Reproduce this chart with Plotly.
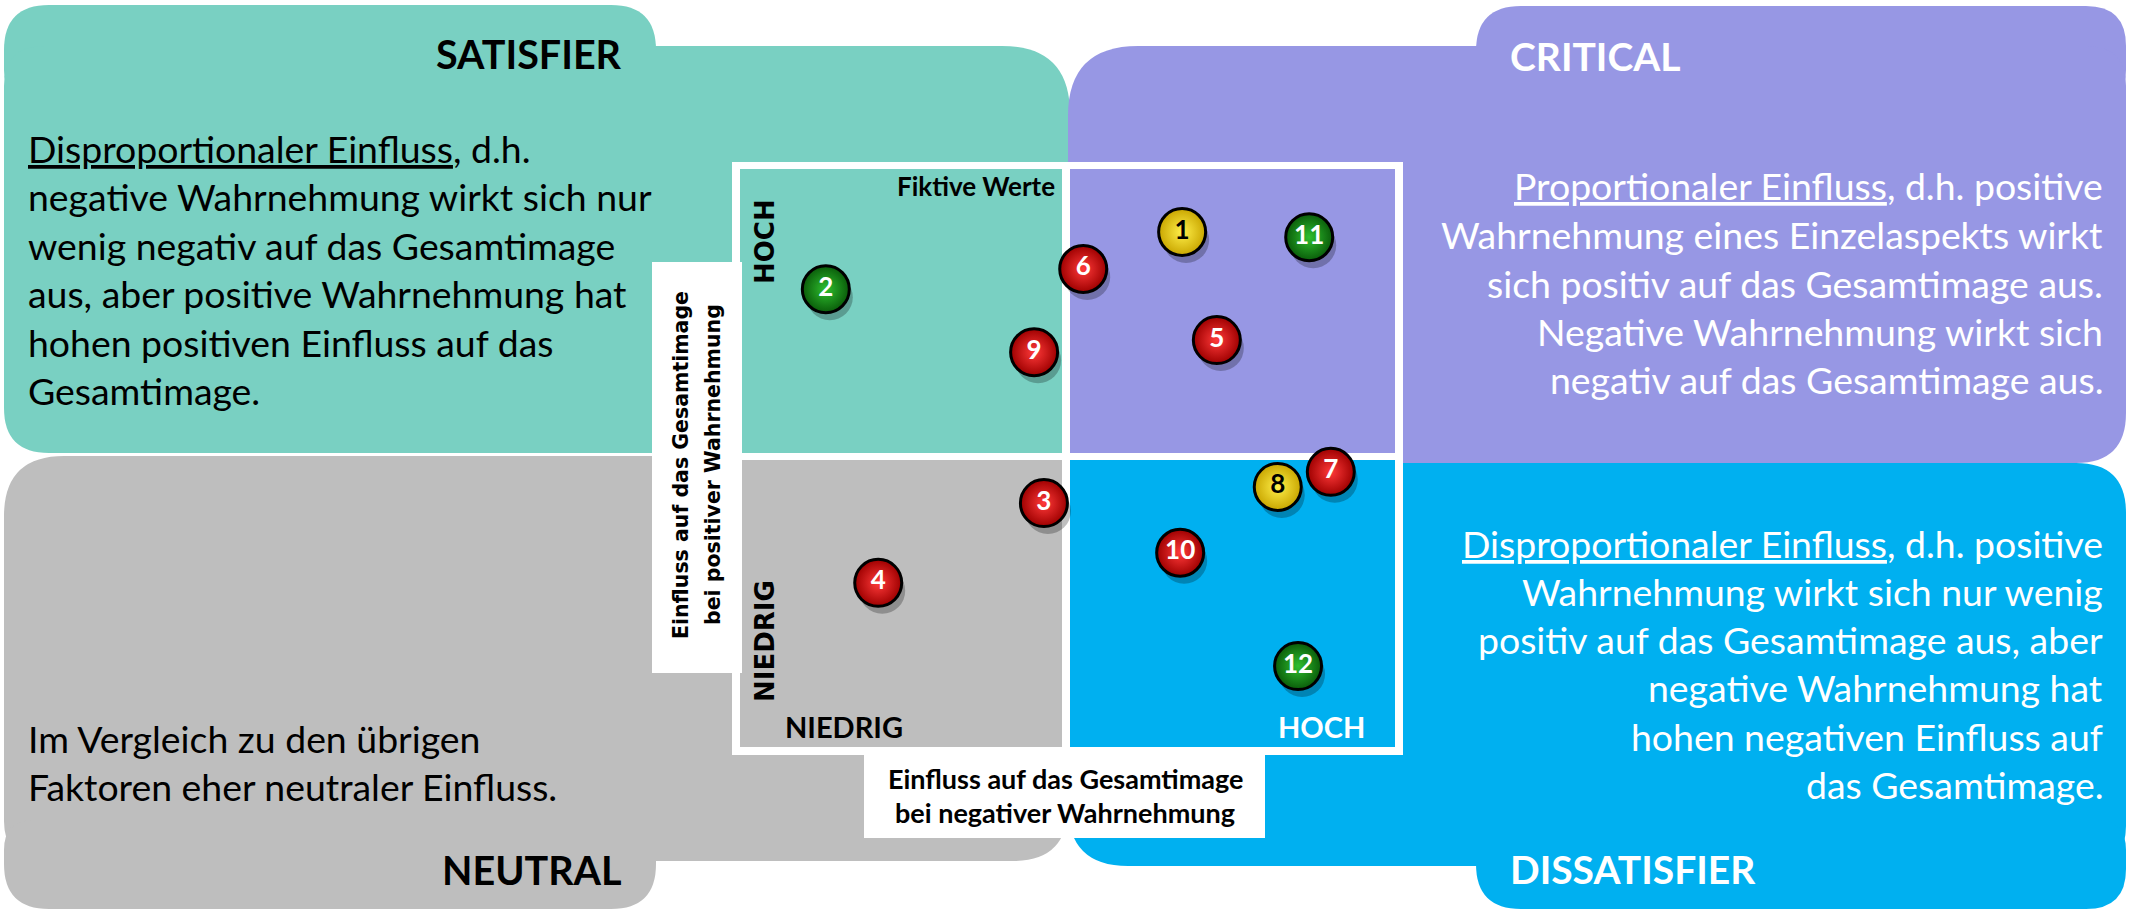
import plotly.graph_objects as go

W, H = 2134, 913

# ---------------- data ----------------
point_labels = ["1", "2", "3", "4", "5", "6", "7", "8", "9", "10", "11", "12"]
einfluss_negativ = [6.75, 1.31, 4.64, 2.11, 7.28, 5.24, 9.02, 8.21, 4.49, 6.72, 8.69, 8.52]
einfluss_positiv = [8.91, 7.92, 4.22, 2.84, 7.04, 8.27, 4.76, 4.50, 6.83, 3.36, 8.82, 1.40]
ampel = ["gelb", "grün", "rot", "rot", "rot", "rot", "rot", "gelb", "rot", "rot", "grün", "grün"]

quadrant_titles = ["SATISFIER", "CRITICAL", "NEUTRAL", "DISSATISFIER"]
satisfier_lines = ["<u>Disproportionaler Einfluss</u>, d.h.",
                   "negative Wahrnehmung wirkt sich nur",
                   "wenig negativ auf das Gesamtimage",
                   "aus, aber positive Wahrnehmung hat",
                   "hohen positiven Einfluss auf das",
                   "Gesamtimage."]
critical_lines = ["<u>Proportionaler Einfluss</u>, d.h. positive",
                  "Wahrnehmung eines Einzelaspekts wirkt",
                  "sich positiv auf das Gesamtimage aus.",
                  "Negative Wahrnehmung wirkt sich",
                  "negativ auf das Gesamtimage aus."]
dissatisfier_lines = ["<u>Disproportionaler Einfluss</u>, d.h. positive",
                      "Wahrnehmung wirkt sich nur wenig",
                      "positiv auf das Gesamtimage aus, aber",
                      "negative Wahrnehmung hat",
                      "hohen negativen Einfluss auf",
                      "das Gesamtimage."]
neutral_lines = ["Im Vergleich zu den übrigen",
                 "Faktoren eher neutraler Einfluss."]
y_title_lines = ["Einfluss auf das Gesamtimage", "bei positiver Wahrnehmung"]
x_title_lines = ["Einfluss auf das Gesamtimage", "bei negativer Wahrnehmung"]
tick_low, tick_high = "NIEDRIG", "HOCH"
note_text = "Fiktive Werte"

# ---------------- styling ----------------
TEAL = "#79D0C2"
PURPLE = "#9797E4"
GRAY = "#BEBEBE"
BLUE = "#00B0F0"
BALL = {"rot": ("#9E0000", "#FF3A3A", "white"),
        "gelb": ("#C9A600", "#FFEF4A", "black"),
        "grün": ("#0A5C0A", "#2FBF2F", "white")}

# plot area in pixels
PX0, PX1, PY0, PY1 = 740, 1395, 169, 747
XR = (0, 10)
YR = (0, 10)


def px(x):
    return x / W


def py(y):
    return 1 - y / H


def rrect(x0, y0, x1, y1, tl=0, tr=0, br=0, bl=0):
    pts = []
    pts.append(f"M{px(x0 + tl)},{py(y0)}")
    pts.append(f"L{px(x1 - tr)},{py(y0)}")
    pts.append(f"Q{px(x1)},{py(y0)} {px(x1)},{py(y0 + tr)}")
    pts.append(f"L{px(x1)},{py(y1 - br)}")
    pts.append(f"Q{px(x1)},{py(y1)} {px(x1 - br)},{py(y1)}")
    pts.append(f"L{px(x0 + bl)},{py(y1)}")
    pts.append(f"Q{px(x0)},{py(y1)} {px(x0)},{py(y1 - bl)}")
    pts.append(f"L{px(x0)},{py(y0 + tl)}")
    pts.append(f"Q{px(x0)},{py(y0)} {px(x0 + tl)},{py(y0)}")
    pts.append("Z")
    return " ".join(pts)


shapes = []


def add_path(path, color):
    shapes.append(dict(type="path", path=path, xref="paper", yref="paper",
                       fillcolor=color, line=dict(width=0), layer="below"))


def add_rect(x0, y0, x1, y1, color):
    shapes.append(dict(type="rect", xref="paper", yref="paper",
                       x0=px(x0), x1=px(x1), y0=py(y1), y1=py(y0),
                       fillcolor=color, line=dict(width=0), layer="below"))


# background panels
add_path(rrect(4, 5, 656, 100, tl=45, tr=45, bl=30), TEAL)
add_path(rrect(4, 46, 1070, 453, tl=40, tr=68, bl=45), TEAL)
add_path(rrect(1476, 6, 2126, 100, tl=45, tr=40, br=30), PURPLE)
add_path(rrect(1068, 46, 2126, 463, tl=70, tr=40, br=50), PURPLE)
add_path(rrect(4, 456, 1068, 861, tl=60, br=55, bl=40), GRAY)
add_path(rrect(4, 820, 656, 909, tl=30, br=45, bl=45), GRAY)
add_path(rrect(1068, 463, 2126, 866, tr=50, br=40, bl=60), BLUE)
add_path(rrect(1476, 820, 2126, 909, tr=30, br=40, bl=45), BLUE)

# plot frame and quadrants
add_rect(732, 162, 1403, 755, "white")
add_rect(740, 169, 1062, 453, TEAL)
add_rect(1070, 169, 1395, 453, PURPLE)
add_rect(740, 460, 1062, 747, GRAY)
add_rect(1070, 460, 1395, 747, BLUE)
# axis title boxes
add_rect(652, 262, 742, 673, "white")
add_rect(864, 750, 1265, 838, "white")

annotations = []


def ann(text, x, y, xanchor="center", size=34, color="black", family="Lato",
        weight="normal", angle=0):
    annotations.append(dict(text=text, x=px(x), y=py(y), xref="paper", yref="paper",
                            xanchor=xanchor, yanchor="middle", showarrow=False,
                            textangle=angle,
                            font=dict(family=family, size=size, color=color, weight=weight)))


# quadrant titles
ann(quadrant_titles[0], 624, 53, "right", 39.5, "black", weight="bold")
ann(quadrant_titles[1], 1508, 56, "left", 39, "white", weight="bold")
ann(quadrant_titles[2], 624, 869, "right", 39.5, "black", weight="bold")
ann(quadrant_titles[3], 1508, 869, "left", 39, "white", weight="bold")

# paragraphs
PF = 37.4
for i, t in enumerate(satisfier_lines):
    ann(t, 26, 148 + 48.5 * i, "left", PF, "black")
for i, t in enumerate(critical_lines):
    ann(t, 2105, 186 + 48.5 * i, "right", PF, "white")
for i, t in enumerate(dissatisfier_lines):
    ann(t, 2105, 543 + 48.3 * i, "right", PF, "white")
for i, t in enumerate(neutral_lines):
    ann(t, 26, 738 + 48 * i, "left", PF, "black")

# axis decorations
ann(note_text, 1057, 186, "right", 26, "black", weight="bold")
ann(tick_high, 765, 241, "center", 26, "black", family="DejaVu Sans", weight="bold", angle=-90)
ann(tick_low, 765, 641, "center", 26, "black", family="DejaVu Sans", weight="bold", angle=-90)
ann(tick_low, 783, 726, "left", 29, "black", weight="bold")
ann(tick_high, 1367, 726, "right", 29, "white", weight="bold")
ann(y_title_lines[0], 681, 465, "center", 20.5, "black", family="DejaVu Sans", weight="bold", angle=-90)
ann(y_title_lines[1], 713, 465, "center", 20.5, "black", family="DejaVu Sans", weight="bold", angle=-90)
ann(x_title_lines[0], 1065, 778, "center", 27, "black", weight="bold")
ann(x_title_lines[1], 1065, 812, "center", 27, "black", weight="bold")

# ---------------- traces ----------------
fig = go.Figure()

ux = (XR[1] - XR[0]) / (PX1 - PX0)
uy = (YR[1] - YR[0]) / (PY1 - PY0)
fig.add_trace(go.Scatter(
    x=[v + 4 * ux for v in einfluss_negativ],
    y=[v - 8 * uy for v in einfluss_positiv],
    mode="markers", hoverinfo="skip",
    marker=dict(size=46, color="rgba(0,0,0,0.25)", line=dict(width=0)),
))
fig.add_trace(go.Scatter(
    x=einfluss_negativ, y=einfluss_positiv, text=point_labels,
    mode="markers+text", textposition="middle center", hoverinfo="skip",
    marker=dict(size=47,
                color=[BALL[a][0] for a in ampel],
                gradient=dict(type="radial", color=[BALL[a][1] for a in ampel]),
                line=dict(width=3, color="black")),
    textfont=dict(family="Lato", size=26, weight="bold",
                  color=[BALL[a][2] for a in ampel]),
))

fig.update_layout(
    width=W, height=H,
    margin=dict(l=0, r=0, t=0, b=0),
    paper_bgcolor="white", plot_bgcolor="rgba(0,0,0,0)",
    showlegend=False,
    shapes=shapes, annotations=annotations,
    xaxis=dict(domain=[PX0 / W, PX1 / W], range=list(XR), visible=False, fixedrange=True),
    yaxis=dict(domain=[1 - PY1 / H, 1 - PY0 / H], range=list(YR), visible=False, fixedrange=True),
)

fig.write_html("out.html", config={"displayModeBar": False},
               post_script="document.body.style.margin='0';document.body.style.overflow='hidden';")
